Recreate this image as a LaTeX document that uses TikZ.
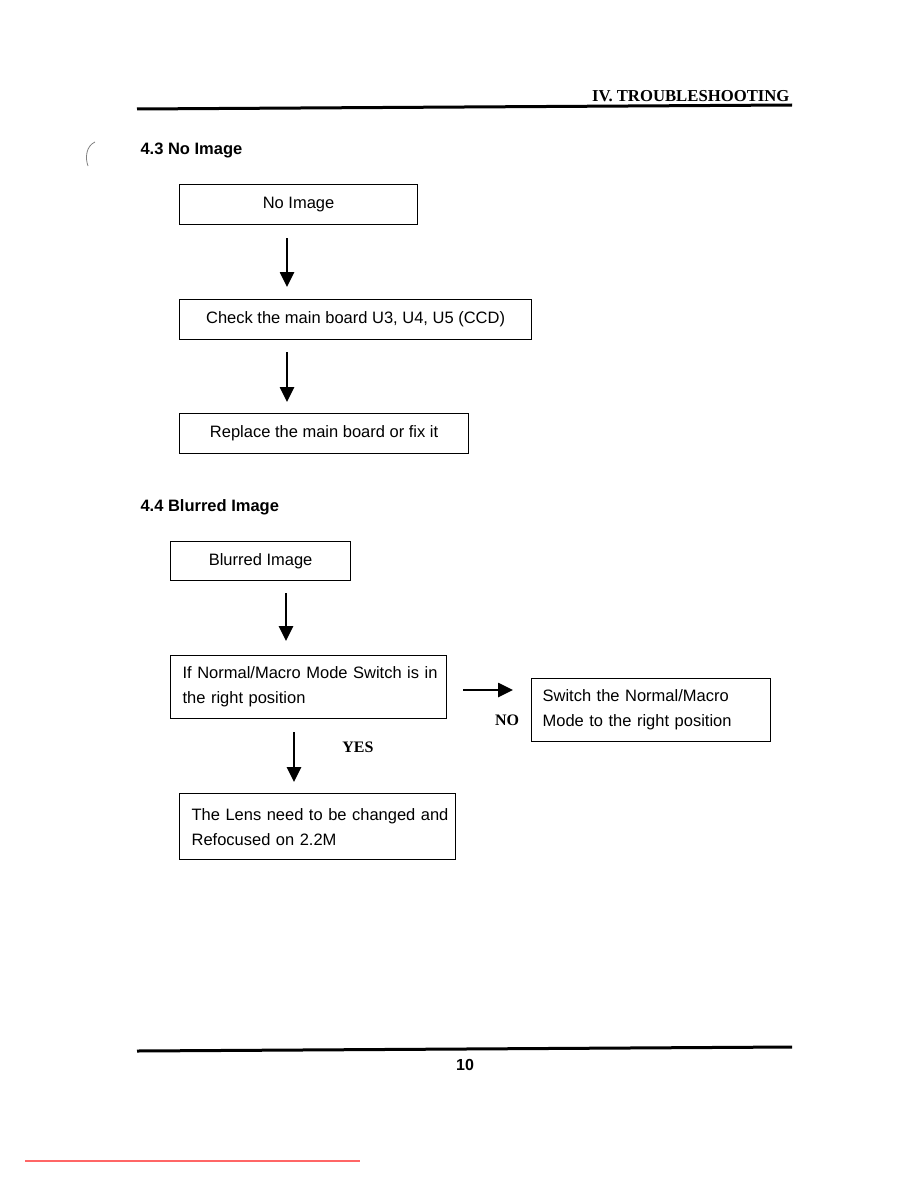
\documentclass[tikz,border=0pt]{standalone}
\usepackage{fontspec}
\setmainfont{Liberation Sans}
\newfontfamily\serifb{Liberation Serif}
\usetikzlibrary{arrows.meta}
\begin{document}
\begin{tikzpicture}[x=1pt,y=-1pt,
  box/.style={draw,line width=1.2pt,anchor=north west,inner sep=0pt,font=\fontsize{16.5}{25}\selectfont},
  mbox/.style={box,align=left,inner xsep=12pt},
  arr/.style={line width=2.6pt,-{Triangle[width=14pt,length=15pt]}},
  rule/.style={line width=3pt},
  sect/.style={anchor=base west,font=\bfseries\fontsize{16.5}{20}\selectfont},
  lbl/.style={font=\serifb\bfseries\fontsize{16}{18}\selectfont}]
\useasboundingbox (0,0) rectangle (918,1188);
% header
\node[anchor=base east,font=\serifb\bfseries\fontsize{16.7}{18}\selectfont] (hdr) at (793,102) {IV. TROUBLESHOOTING};
\draw[rule] (137,109) -- (792,105);
\draw[gray,line width=0.8pt] (95,142) .. controls (86,146) and (85,158) .. (88,166);
% 4.3
\node[sect] (s43) at (137,154) {4.3 No Image};
\node[box,minimum width=238pt,minimum height=40pt] (b1) at (179,184) {No Image};
\node[box,minimum width=352pt,minimum height=40pt] (b2) at (179,299) {Check the main board U3, U4, U5 (CCD)};
\node[box,minimum width=289pt,minimum height=40pt] (b3) at (179,413) {Replace the main board or fix it};
\coordinate (xa) at (287,0);
\draw[arr,shorten <=13pt,shorten >=12pt] (b1.south -| xa) -- (b2.north -| xa);
\draw[arr,shorten <=12pt,shorten >=11pt] (b2.south -| xa) -- (b3.north -| xa);
% 4.4
\node[sect] (s44) at (137,511) {4.4 Blurred Image};
\node[box,minimum width=180pt,minimum height=39pt] (b4) at (170,541) {Blurred Image};
\node[mbox,text width=252pt,minimum height=63pt] (b5) at (170,655) {\mbox{If Normal/Macro Mode Switch is in}\\\mbox{the right position}};
\node[mbox,inner xsep=11pt,text width=217pt,minimum height=63pt] (b6) at (531,678) {\mbox{Switch the Normal/Macro}\\\mbox{Mode to the right position}};
\node[mbox,text width=252pt,minimum height=66pt] (b7) at (179,793) {\mbox{The Lens need to be changed and}\\\mbox{Refocused on 2.2M}};
\coordinate (xb) at (286,0);
\coordinate (xc) at (294,0);
\coordinate (yr) at (0,690);
\draw[arr,shorten <=12pt,shorten >=14pt] (b4.south -| xb) -- (b5.north -| xb);
\draw[arr,shorten <=13pt,shorten >=11pt] (b5.south -| xc) -- (b7.north -| xc);
\draw[arr,shorten <=16pt,shorten >=18pt] (b5.east |- yr) -- (b6.west |- yr);
\node[lbl] (yes) at (358,747) {YES};
\node[lbl] (no) at (507,720) {NO};
% footer
\draw[rule] (137,1051) -- (792,1047);
\node[anchor=base,font=\bfseries\fontsize{16}{18}\selectfont] (pg) at (465,1070) {10};
\draw[red!60,line width=1.5pt] (25,1161) -- (360,1161);
\end{tikzpicture}
\end{document}
